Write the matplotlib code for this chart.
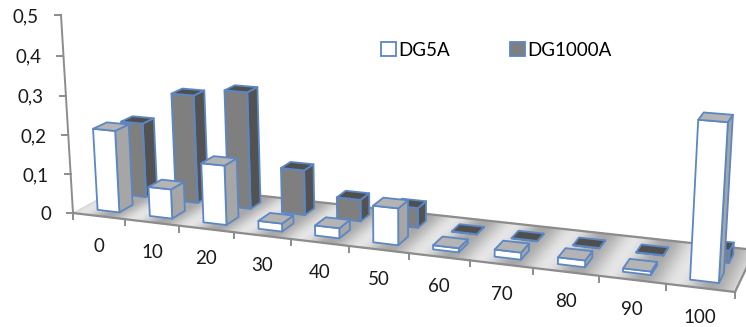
import numpy as np
import matplotlib
matplotlib.use("Agg")
import matplotlib.pyplot as plt
from matplotlib.patches import Polygon, Patch

plt.rcParams['font.family'] = ['Lato', 'DejaVu Sans']

categories = ["0", "10", "20", "30", "40", "50", "60", "70", "80", "90", "100"]
dg5a = [0.21, 0.075, 0.15, 0.02, 0.025, 0.09, 0.01, 0.017, 0.016, 0.008, 0.36]
dg1000a = [0.195, 0.28, 0.30, 0.115, 0.055, 0.05, 0.001, 0.001, 0.001, 0.001, 0.03]
value_ticks = [0, 0.1, 0.2, 0.3, 0.4, 0.5]
value_labels = ["0", "0,1", "0,2", "0,3", "0,4", "0,5"]

BLUE = "#5b87c5"
AXIS = "#8c8c8c"

# floor corners and the vanishing point of the verticals, in figure pixels
src = np.array([[0, 0], [11, 0], [0, 1], [11, 1]], float)
dst = np.array([[73, 213], [735, 292], [131, 181.5], [755, 250]], float)
A = []
b = []
for (u, v), (x, y) in zip(src, dst):
    A.append([u, v, 1, 0, 0, 0, -u * x, -v * x])
    A.append([0, 0, 0, u, v, 1, -u * y, -v * y])
    b += [x, y]
h = np.linalg.solve(np.array(A), np.array(b))
c_z = -0.0688
r_x, r_y = 410 * c_z, 5773 * c_z


def project(u, v, z=0.0):
    w = h[6] * u + h[7] * v + 1 + c_z * z
    x = (h[0] * u + h[1] * v + h[2] + r_x * z) / w
    y = (h[3] * u + h[4] * v + h[5] + r_y * z) / w
    return x, y


def draw_bar(ax, i, value, v0, v1, front, side, top):
    u0, u1 = i + 0.30, i + 0.72
    faces = [
        ([(u1, v0, 0), (u1, v1, 0), (u1, v1, value), (u1, v0, value)], side),
        ([(u0, v0, 0), (u1, v0, 0), (u1, v0, value), (u0, v0, value)], front),
        ([(u0, v0, value), (u1, v0, value), (u1, v1, value), (u0, v1, value)], top),
    ]
    for corners, color in faces:
        pts = [project(*c) for c in corners]
        ax.add_patch(Polygon(pts, closed=True, facecolor=color, edgecolor=BLUE,
                             linewidth=1.3, joinstyle="round"))


fig = plt.figure(figsize=(7.46, 3.27), dpi=100)
ax = fig.add_axes([0, 0, 1, 1])
ax.set_xlim(0, 746)
ax.set_ylim(327, 0)
ax.axis("off")

# floor with the repeating silver bands
uu, vv = np.meshgrid(np.linspace(0, 11, 221), np.linspace(0, 1, 9))
fx, fy = project(uu, vv)
bands = 0.66 + 0.24 * (0.5 + 0.5 * np.cos(2 * np.pi * (uu - 0.15)))
ax.pcolormesh(fx, fy, bands, cmap="gray", vmin=0, vmax=1, shading="gouraud", zorder=0)

# axis lines
for start, end in [((0, 0), (11, 0)), ((11, 0), (11, 1)), ((0, 1), (11, 1))]:
    p0 = project(*start)
    p1 = project(*end)
    ax.plot([p0[0], p1[0]], [p0[1], p1[1]], color=AXIS, lw=1.6, zorder=1)
base = project(0, 0, 0)
top = project(0, 0, 0.5)
ax.plot([base[0], top[0]], [base[1], top[1]], color=AXIS, lw=1.4, zorder=1)

for val, label in zip(value_ticks, value_labels):
    x, y = project(0, 0, val)
    ax.plot([x - 6, x], [y, y], color=AXIS, lw=1.4)
    ax.text(x - 22, y + 1.5, label, ha="right", va="center", fontsize=13.5, color="#1a1a1a")

for i, label in enumerate(categories):
    x, y = project(i, 0)
    ax.plot([x, x], [y, y + 6], color=AXIS, lw=1.4)
    cx, cy = project(i + 0.5, 0)
    ax.text(cx, cy + 30, label, ha="center", va="center", fontsize=13.5, color="#1a1a1a")
x, y = project(11, 0)
ax.plot([x, x], [y, y + 6], color=AXIS, lw=1.4)

# back row first, then the front row over it
for i, val in enumerate(dg1000a):
    draw_bar(ax, i, val, 0.62, 0.82, "#7f7f7f", "#525252", "#4f4f4f")
for i, val in enumerate(dg5a):
    draw_bar(ax, i, val, 0.15, 0.38, "#ffffff", "#a6a6a6", "#b4b4b4")

handles = [Patch(facecolor="white", edgecolor=BLUE, linewidth=1.3),
           Patch(facecolor="#7f7f7f", edgecolor=BLUE, linewidth=1.3)]
ax.legend(handles, ["DG5A", "DG1000A"], ncol=2, frameon=False, fontsize=13.5,
          handlelength=0.8, handleheight=0.8, handletextpad=0.1, columnspacing=3.23,
          loc="center left", bbox_to_anchor=(381 / 746, 1 - 50 / 327), borderpad=0, borderaxespad=0)

fig.savefig("out.png", dpi=100)
